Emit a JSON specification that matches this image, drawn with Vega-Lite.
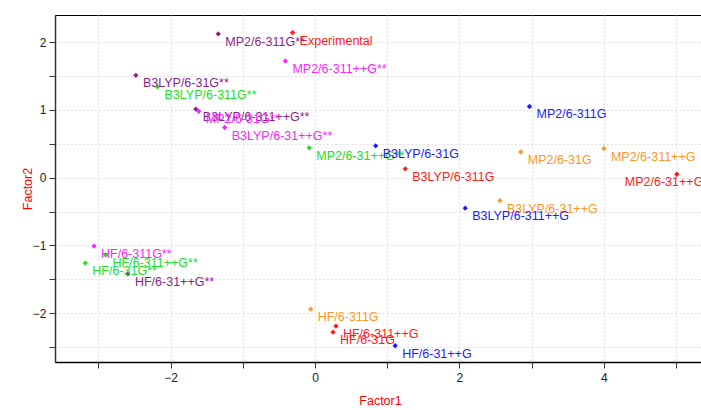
{
  "$schema": "https://vega.github.io/schema/vega-lite/v6.json",
  "autosize": {"type": "none"},
  "padding": {"left": 55, "top": 15, "right": 0, "bottom": 48},
  "width": 650,
  "height": 347,
  "background": "white",
  "config": {
    "font": "Liberation Sans",
    "view": {"stroke": "black", "strokeWidth": 1},
    "axis": {
      "gridColor": "#c4c4c4",
      "gridDash": [1, 3],
      "gridWidth": 1,
      "domainColor": "#333",
      "domainWidth": 1.5,
      "tickColor": "#333",
      "tickSize": 6,
      "labelColor": "#222",
      "labelFontSize": 12,
      "labelFont": "Liberation Sans",
      "labelFlush": false,
      "titleColor": "#ff0000",
      "titleFont": "Liberation Sans",
      "titleFontSize": 12.5,
      "titleFontWeight": "normal"
    }
  },
  "data": {
    "values": [
      {"label": "Experimental", "f1": -0.31, "f2": 2.14, "c": "red"},
      {"label": "MP2/6-311G**", "f1": -1.34, "f2": 2.12, "c": "purple"},
      {"label": "MP2/6-311++G**", "f1": -0.41, "f2": 1.72, "c": "magenta"},
      {"label": "B3LYP/6-31G**", "f1": -2.48, "f2": 1.51, "c": "purple"},
      {"label": "B3LYP/6-311G**", "f1": -2.18, "f2": 1.34, "c": "green"},
      {"label": "B3LYP/6-311++G**", "f1": -1.65, "f2": 1.01, "c": "purple"},
      {"label": "MP2/6-31G**", "f1": -1.61, "f2": 0.98, "c": "magenta"},
      {"label": "B3LYP/6-31++G**", "f1": -1.25, "f2": 0.74, "c": "magenta"},
      {"label": "MP2/6-31++G**", "f1": -0.08, "f2": 0.44, "c": "green"},
      {"label": "B3LYP/6-31G", "f1": 0.84, "f2": 0.47, "c": "blue"},
      {"label": "B3LYP/6-311G", "f1": 1.25, "f2": 0.13, "c": "red"},
      {"label": "MP2/6-311G", "f1": 2.97, "f2": 1.05, "c": "blue"},
      {"label": "MP2/6-31G", "f1": 2.85, "f2": 0.38, "c": "orange"},
      {"label": "MP2/6-311++G", "f1": 4.0, "f2": 0.43, "c": "orange"},
      {"label": "MP2/6-31++G", "f1": 5.01, "f2": 0.05, "c": "red"},
      {"label": "B3LYP/6-31++G", "f1": 2.56, "f2": -0.34, "c": "orange"},
      {"label": "B3LYP/6-311++G", "f1": 2.08, "f2": -0.45, "c": "blue"},
      {"label": "HF/6-311G**", "f1": -3.06, "f2": -1.01, "c": "magenta"},
      {"label": "HF/6-311++G**", "f1": -2.9, "f2": -1.14, "c": "green"},
      {"label": "HF/6-31G**", "f1": -3.18, "f2": -1.26, "c": "green"},
      {"label": "HF/6-31++G**", "f1": -2.59, "f2": -1.42, "c": "purple"},
      {"label": "HF/6-311G", "f1": -0.06, "f2": -1.94, "c": "orange"},
      {"label": "HF/6-311++G", "f1": 0.29, "f2": -2.19, "c": "red"},
      {"label": "HF/6-31G", "f1": 0.25, "f2": -2.28, "c": "red"},
      {"label": "HF/6-31++G", "f1": 1.11, "f2": -2.48, "c": "blue"}
    ]
  },
  "encoding": {
    "x": {
      "field": "f1", "type": "quantitative",
      "scale": {"domain": [-3.6, 5.4], "nice": false, "zero": false},
      "axis": {
        "title": "Factor1",
        "values": [-3, -2, -1, 0, 1, 2, 3, 4, 5],
        "labelExpr": "abs(datum.value) % 2 === 0 ? format(datum.value, 'd') : ''",
        "domainColor": "#000",
        "labelPadding": 4,
        "titleY": 38,
        "titleBaseline": "middle"
      }
    },
    "y": {
      "field": "f2", "type": "quantitative",
      "scale": {"domain": [-2.72, 2.4], "nice": false, "zero": false},
      "axis": {
        "title": "Factor2",
        "values": [-2.5, -2, -1.5, -1, -0.5, 0, 0.5, 1, 1.5, 2],
        "labelExpr": "abs(datum.value) % 1 === 0 ? format(datum.value, 'd') : ''",
        "labelPadding": 3,
        "titleX": -28,
        "titleBaseline": "middle"
      }
    },
    "color": {
      "field": "c", "type": "nominal", "legend": null,
      "scale": {
        "domain": ["red", "purple", "magenta", "green", "blue", "orange"],
        "range": ["#ff1a1a", "#8a1f8a", "#ff22ff", "#22dd22", "#1a1aff", "#ff9626"]
      }
    }
  },
  "layer": [
    {"mark": {"type": "point", "shape": "diamond", "filled": true, "size": 28, "opacity": 1}},
    {
      "transform": [{"filter": "datum.label !== 'MP2/6-31++G'"}],
      "mark": {"type": "text", "align": "left", "baseline": "middle", "dx": 7, "dy": 8, "fontSize": 12.5, "font": "Liberation Sans"},
      "encoding": {"text": {"field": "label"}}
    },
    {
      "transform": [{"filter": "datum.label === 'MP2/6-31++G'"}],
      "mark": {"type": "text", "align": "left", "baseline": "middle", "dx": -52, "dy": 8, "fontSize": 12.5, "font": "Liberation Sans"},
      "encoding": {"text": {"field": "label"}}
    }
  ]
}
